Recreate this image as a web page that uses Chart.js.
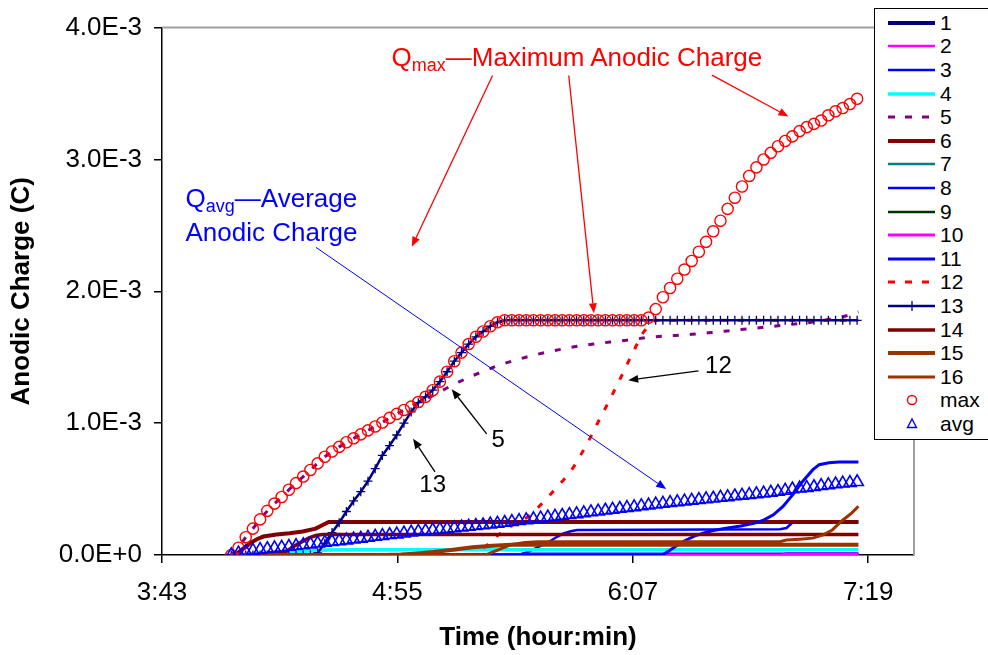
<!DOCTYPE html>
<html>
<head>
<meta charset="utf-8">
<script src="https://cdn.jsdelivr.net/npm/chart.js@4/dist/chart.umd.min.js"></script>
<style>
html,body{margin:0;padding:0;background:#fff;}
#wrap{position:relative;width:988px;height:655px;overflow:hidden;font-family:"Liberation Sans",Arial,Helvetica,sans-serif;}
#c{position:absolute;left:0;top:0;}
.ann{position:absolute;white-space:nowrap;line-height:1;}
.sub{font-size:18px;position:relative;top:5px;}
#legend{position:absolute;left:874px;top:8px;width:130px;height:432px;border:1px solid #000;background:#fff;box-sizing:border-box;}
.li{position:absolute;left:0;height:24px;width:128px;font-size:21px;line-height:24px;color:#000;}
.li svg{position:absolute;left:13px;top:5px;}
.li span{position:absolute;left:65px;top:0;}
</style>
</head>
<body>
<div id="wrap">
<canvas id="c" width="988" height="655"></canvas>
<div class="ann" id="qmax" style="color:#f00;font-size:26px">Q<span class="sub">max</span>—Maximum Anodic Charge</div>
<div class="ann" id="qavg1" style="color:#00f;font-size:26px">Q<span class="sub">avg</span>—Average</div>
<div class="ann" id="qavg2" style="color:#00f;font-size:26px">Anodic Charge</div>
<div class="ann" id="l12" style="color:#000;font-size:24px">12</div>
<div class="ann" id="l5" style="color:#000;font-size:24px">5</div>
<div class="ann" id="l13" style="color:#000;font-size:24px">13</div>
<div id="legend"></div>
</div>
<script>
// ---- Data (time in minutes after midnight, charge in units of 1E-3 C) ----
const xTicks = [223, 295, 367, 439];          // 3:43, 4:55, 6:07, 7:19
const yTicks = [0, 1, 2, 3, 4];                // 0.0E+0 ... 4.0E-3

// sampling times of the marked series (max, avg, 13)
const timeGrid = [244.2,246.4,248.6,250.8,253.0,255.2,257.4,259.6,261.8,264.0,266.2,268.4,270.6,272.8,275.0,277.2,279.4,281.6,283.8,286.0,288.2,290.4,292.6,294.8,297.0,299.2,301.4,303.6,305.8,308.0,310.2,312.4,314.6,316.8,319.0,321.2,323.4,325.6,327.8,330.0,332.2,334.4,336.6,338.8,341.0,343.2,345.4,347.6,349.8,352.0,354.2,356.4,358.6,360.8,363.0,365.2,367.4,369.6,371.8,374.0,376.2,378.4,380.6,382.8,385.0,387.2,389.4,391.6,393.8,396.0,398.2,400.4,402.6,404.8,407.0,409.2,411.4,413.6,415.8,418.0,420.2,422.4,424.6,426.8,429.0,431.2,433.4,435.6];

const maxVals = [0.000,0.055,0.135,0.200,0.270,0.335,0.390,0.440,0.495,0.545,
0.595,0.645,0.695,0.745,0.785,0.820,0.855,0.885,0.915,0.945,
0.975,1.005,1.040,1.070,1.100,1.125,1.160,1.200,1.250,1.315,
1.390,1.470,1.535,1.600,1.655,1.695,1.735,1.765,1.780,
1.780,1.780,1.780,1.780,1.780,1.780,1.780,1.780,1.780,1.780,1.780,1.780,1.780,1.780,1.780,1.780,1.780,1.780,1.780,
1.800,1.865,1.955,2.025,2.095,2.165,2.230,2.300,2.375,2.455,2.535,2.625,2.710,2.795,2.875,2.940,3.000,3.050,3.100,3.140,3.175,3.215,3.245,3.270,3.295,3.335,3.365,3.390,3.420,3.460];

const avgVals = [0.000,0.012,0.024,0.033,0.039,0.046,0.052,0.057,0.063,0.069,
0.075,0.081,0.088,0.094,0.100,0.105,0.112,0.119,0.125,0.132,
0.139,0.145,0.152,0.157,0.164,0.171,0.177,0.182,0.188,0.193,
0.199,0.204,0.210,0.215,0.221,0.226,0.232,0.239,0.245,0.252,
0.259,0.265,0.272,0.278,0.285,0.292,0.298,0.305,0.311,0.318,
0.325,0.331,0.338,0.344,0.351,0.358,0.364,0.371,0.377,0.384,
0.390,0.396,0.402,0.407,0.413,0.418,0.424,0.429,0.435,0.440,
0.446,0.451,0.457,0.462,0.468,0.473,0.480,0.489,0.499,0.505,
0.510,0.516,0.524,0.530,0.537,0.543,0.548,0.554];

const s13 = [0,0,0,0,0,0,0,0,0,0,0,0,0.015,
0.090,0.170,0.245,0.330,0.410,0.480,0.560,0.655,0.755,0.830,0.910,1.000,1.085,1.155,1.200,1.250,1.315,
1.390,1.470,1.535,1.600,1.655,1.695,1.735,1.765,1.780,
1.780,1.780,1.780,1.780,1.780,1.780,1.780,1.780,1.780,1.780,1.780,1.780,1.780,1.780,1.780,1.780,1.780,1.780,1.780,1.780,
1.780,1.780,1.780,1.780,1.780,1.780,1.780,1.780,1.780,1.780,1.780,1.780,1.780,1.780,1.780,1.780,1.780,1.780,1.780,1.780,
1.780,1.780,1.780,1.780,1.780,1.780,1.780,1.780,1.780];

const s1T = [244,436];             const s1 = [0,0];
const s2T = [244,412,414,436];     const s2 = [0,0,0.012,0.012];
const s3T = [244,332,334,336,338,340,342,344,346,348,350,412,414,416,436];
const s3  = [0,0,0.015,0.035,0.06,0.085,0.11,0.14,0.165,0.18,0.19,0.195,0.205,0.25,0.25];
const s4T = [244,250,256,262,268,274,280,436]; const s4 = [0,0.005,0.012,0.02,0.03,0.038,0.04,0.04];
const s5T = [244.2,246.4,248.6,250.8,253.0,255.2,257.4,259.6,261.8,264.0,266.2,268.4,270.6,272.8,275.0,277.2,279.4,281.6,283.8,286.0,288.2,290.4,292.6,294.8,297.0,299.2,301.4,306,310,314,318,322,326,330,335,340,345,350,355,360,365,370,375,380,385,390,395,400,405,410,415,420,425,430,434,436];
const s5  = [0.000,0.055,0.135,0.200,0.270,0.335,0.390,0.440,0.495,0.545,0.595,0.645,0.695,0.745,0.785,0.820,0.855,0.885,0.915,0.945,0.975,1.005,1.040,1.070,1.100,1.125,1.155,1.210,1.265,1.315,1.360,1.400,1.440,1.470,1.505,1.535,1.560,1.583,1.600,1.615,1.628,1.645,1.658,1.665,1.674,1.685,1.697,1.710,1.722,1.735,1.748,1.760,1.778,1.800,1.825,1.845];
const s6T = [244,246,248,250,252,254,258,262,266,270,272,274,436];
const s6  = [0,0.01,0.05,0.09,0.12,0.14,0.155,0.165,0.178,0.2,0.225,0.25,0.25];
const s7T = [244,436];             const s7 = [0,0];
const s8T = [244,330,334,436];     const s8 = [0,0,0.01,0.01];
const s9T = [244,436];             const s9 = [0,0];
const s10T = [244,412,414,436];    const s10 = [0,0,0.006,0.006];
const s11T = [244,376,378,380,383,386,389,392,396,400,404,407,410,413,416,419,422,424,427,430,436];
const s11  = [0,0,0.03,0.065,0.11,0.145,0.17,0.188,0.205,0.22,0.24,0.265,0.305,0.37,0.46,0.56,0.645,0.685,0.70,0.705,0.705];
const s12T = [244,318,320,322,324,326,328,330,332,334,336,338,340,342,344,346,348,350,352,354,356,358,360,362,364,366,368,370,372,374,436];
const s12  = [0,0,0.03,0.065,0.11,0.155,0.19,0.222,0.25,0.275,0.31,0.36,0.41,0.465,0.52,0.575,0.635,0.71,0.80,0.89,0.99,1.085,1.18,1.28,1.38,1.485,1.585,1.68,1.75,1.78,1.78];
const s14T = [244,250,256,259,261,263,265,268,270,272,436];
const s14  = [0,0.004,0.008,0.015,0.027,0.06,0.09,0.13,0.148,0.155,0.155];
const s15T = [244,290,296,300,306,312,318,324,330,436];
const s15  = [0,0,0.004,0.01,0.022,0.04,0.058,0.07,0.077,0.078];
const s16T = [244,322,326,330,334,338,412,414,418,422,425,428,431,434,436];
const s16  = [0,0,0.04,0.08,0.095,0.10,0.10,0.113,0.12,0.128,0.15,0.19,0.26,0.32,0.37];

// ---- Annotations (anchored in data coordinates) ----
const annTexts = [
  {id:'qmax',  x:293.2, y:3.71},
  {id:'qavg1', x:230.2, y:2.64},
  {id:'qavg2', x:230.2, y:2.381},
  {id:'l12',   x:389.1, y:1.376},
  {id:'l5',    x:323.8, y:0.818},
  {id:'l13',   x:301.7, y:0.479}
];
const annArrows = [
  {x1:324.1, y1:3.637, x2:299.4, y2:2.338, c:'#ff0000', w:1.3},
  {x1:347.4, y1:3.637, x2:355.1, y2:1.833, c:'#ff0000', w:1.3},
  {x1:391.2, y1:3.640, x2:414.6, y2:3.326, c:'#ff0000', w:1.3},
  {x1:270.1, y1:2.333, x2:377.2, y2:0.500, c:'#0000ff', w:1},
  {x1:387.1, y1:1.396, x2:365.6, y2:1.326, c:'#000000', w:1.3},
  {x1:322.3, y1:0.919, x2:311.6, y2:1.258, c:'#000000', w:1.3},
  {x1:306.5, y1:0.630, x2:299.8, y2:0.882, c:'#000000', w:1.3}
];

// ---- Build datasets ----
const F = '"Liberation Sans", Arial, Helvetica, sans-serif';
function pts(t, v){ return t.map((x,i)=>({x:x, y:v[i]})); }
const series = [
  {label:'1',  data:pts(s1T,s1),   color:'#000080', w:4},
  {label:'2',  data:pts(s2T,s2),   color:'#ff00ff', w:2.5},
  {label:'3',  data:pts(s3T,s3),   color:'#0000ff', w:2.5},
  {label:'4',  data:pts(s4T,s4),   color:'#00ffff', w:3.5},
  {label:'5',  data:pts(s5T,s5),   color:'#800080', w:3, dash:[6,11]},
  {label:'6',  data:pts(s6T,s6),   color:'#800000', w:4},
  {label:'7',  data:pts(s7T,s7),   color:'#008080', w:2.5},
  {label:'8',  data:pts(s8T,s8),   color:'#0000ff', w:2.5},
  {label:'9',  data:pts(s9T,s9),   color:'#003300', w:2.5},
  {label:'10', data:pts(s10T,s10), color:'#ff00ff', w:3},
  {label:'11', data:pts(s11T,s11), color:'#0000ff', w:3},
  {label:'12', data:pts(s12T,s12), color:'#ff0000', w:3, dash:[6,11]},
  {label:'13', data:pts(timeGrid,s13), color:'#000080', w:2.5, marker:'cross'},
  {label:'14', data:pts(s14T,s14), color:'#800000', w:3.5},
  {label:'15', data:pts(s15T,s15), color:'#993300', w:4},
  {label:'16', data:pts(s16T,s16), color:'#993300', w:3},
  {label:'max', data:pts(timeGrid,maxVals), color:'#ff0000', w:0, marker:'circle', only:true},
  {label:'avg', data:pts(timeGrid,avgVals), color:'#0000ff', w:0, marker:'triangle', only:true}
];
const N = series.length;
const datasets = series.map((s,i)=>({
  label:s.label, data:s.data,
  borderColor:s.color, backgroundColor:'rgba(0,0,0,0)',
  borderWidth: s.only ? 1.5 : s.w,
  borderDash: s.dash || [],
  borderCapStyle:'butt',
  showLine: !s.only,
  tension:0,
  pointStyle: s.marker || 'circle',
  pointRadius: s.marker==='circle' ? 5.6 : s.marker==='triangle' ? 7.2 : s.marker==='cross' ? 4.5 : 0,
  pointBorderWidth: s.marker==='cross' ? 1.3 : s.marker==='triangle' ? 1.6 : 1.4,
  pointBorderColor: s.color,
  pointBackgroundColor:'rgba(0,0,0,0)',
  pointHoverRadius:0,
  order: N - i
}));

function fmtTime(v){ const h=Math.floor(v/60), m=Math.round(v-h*60); return h+':'+(m<10?'0':'')+m; }
function fmtY(v){ return v===0 ? '0.0E+0' : v.toFixed(1)+'E-3'; }

function arrow(ctx,x1,y1,x2,y2,color,w){
  ctx.strokeStyle=color; ctx.fillStyle=color; ctx.lineWidth=w;
  const a=Math.atan2(y2-y1,x2-x1), L=10, H=4;
  const bx=x2-L*Math.cos(a), by=y2-L*Math.sin(a);
  ctx.beginPath(); ctx.moveTo(x1,y1); ctx.lineTo(bx,by); ctx.stroke();
  ctx.beginPath(); ctx.moveTo(x2,y2);
  ctx.lineTo(bx+H*Math.sin(a), by-H*Math.cos(a));
  ctx.lineTo(bx-H*Math.sin(a), by+H*Math.cos(a));
  ctx.closePath(); ctx.fill();
}

const overlay = {
  id:'overlay',
  afterDraw(chart){
    const {ctx, chartArea:a, scales:{x,y}} = chart;
    ctx.save();
    ctx.strokeStyle='#a0a0a0'; ctx.lineWidth=2;
    ctx.beginPath(); ctx.moveTo(a.left, a.top); ctx.lineTo(a.right, a.top); ctx.lineTo(a.right, a.bottom); ctx.stroke();
    annArrows.forEach(r=>arrow(ctx, x.getPixelForValue(r.x1), y.getPixelForValue(r.y1), x.getPixelForValue(r.x2), y.getPixelForValue(r.y2), r.c, r.w));
    ctx.restore();
    annTexts.forEach(t=>{
      const el=document.getElementById(t.id);
      const fs=parseFloat(getComputedStyle(el).fontSize);
      el.style.left = x.getPixelForValue(t.x)+'px';
      el.style.top  = (y.getPixelForValue(t.y) - 0.8465*fs)+'px';
    });
  }
};

new Chart(document.getElementById('c'), {
  type:'line',
  data:{datasets:datasets},
  options:{
    responsive:false, animation:false, devicePixelRatio:1,
    layout:{padding:{left:0, right:74, top:24, bottom:0}},
    plugins:{legend:{display:false}, tooltip:{enabled:false}},
    elements:{line:{fill:false}},
    scales:{
      x:{
        type:'linear', min:223, max:453,
        afterBuildTicks:s=>{ s.ticks = xTicks.map(v=>({value:v})); },
        afterFit:s=>{ s.height = 100; },
        ticks:{font:{size:26,family:F}, color:'#000', padding:14, maxRotation:0, autoSkip:false, callback:fmtTime},
        grid:{drawOnChartArea:false, drawTicks:true, tickLength:8, color:'#000', lineWidth:1.5},
        border:{display:true, color:'#000', width:1.5},
        title:{display:true, text:'Time (hour:min)', color:'#000', font:{size:26, weight:'bold', family:F}, padding:{top:0,bottom:2}}
      },
      y:{
        type:'linear', min:0, max:4,
        afterBuildTicks:s=>{ s.ticks = yTicks.map(v=>({value:v})); },
        afterFit:s=>{ s.width = 162; },
        ticks:{font:{size:26,family:F}, color:'#000', padding:12, callback:fmtY},
        grid:{drawOnChartArea:false, drawTicks:true, tickLength:8, color:'#000', lineWidth:1.5},
        border:{display:true, color:'#000', width:1.5},
        title:{display:true, text:'Anodic Charge (C)', color:'#000', font:{size:26, weight:'bold', family:F}, padding:{top:6,bottom:0}}
      }
    }
  },
  plugins:[overlay]
});

// ---- HTML legend ----
(function(){
  const lg=document.getElementById('legend');
  series.forEach((s,i)=>{
    const d=document.createElement('div'); d.className='li';
    d.style.top = (1.7 + 23.6*i) + 'px';
    let g;
    if(s.only){
      g = s.marker==='circle'
        ? '<circle cx="24" cy="7" r="4.5" fill="none" stroke="'+s.color+'" stroke-width="1.4"/>'
        : '<polygon points="24,2 28.5,10.5 19.5,10.5" fill="none" stroke="'+s.color+'" stroke-width="1.4"/>';
    } else {
      g = '<line x1="0" y1="7" x2="47" y2="7" stroke="'+s.color+'" stroke-width="'+s.w+'"'+(s.dash?' stroke-dasharray="7,10"':'')+'/>';
      if(s.marker==='cross') g += '<line x1="24" y1="2" x2="24" y2="12" stroke="'+s.color+'" stroke-width="1.3"/>';
    }
    d.innerHTML = '<svg width="48" height="14">'+g+'</svg><span>'+s.label+'</span>';
    lg.appendChild(d);
  });
})();
</script>
</body>
</html>
